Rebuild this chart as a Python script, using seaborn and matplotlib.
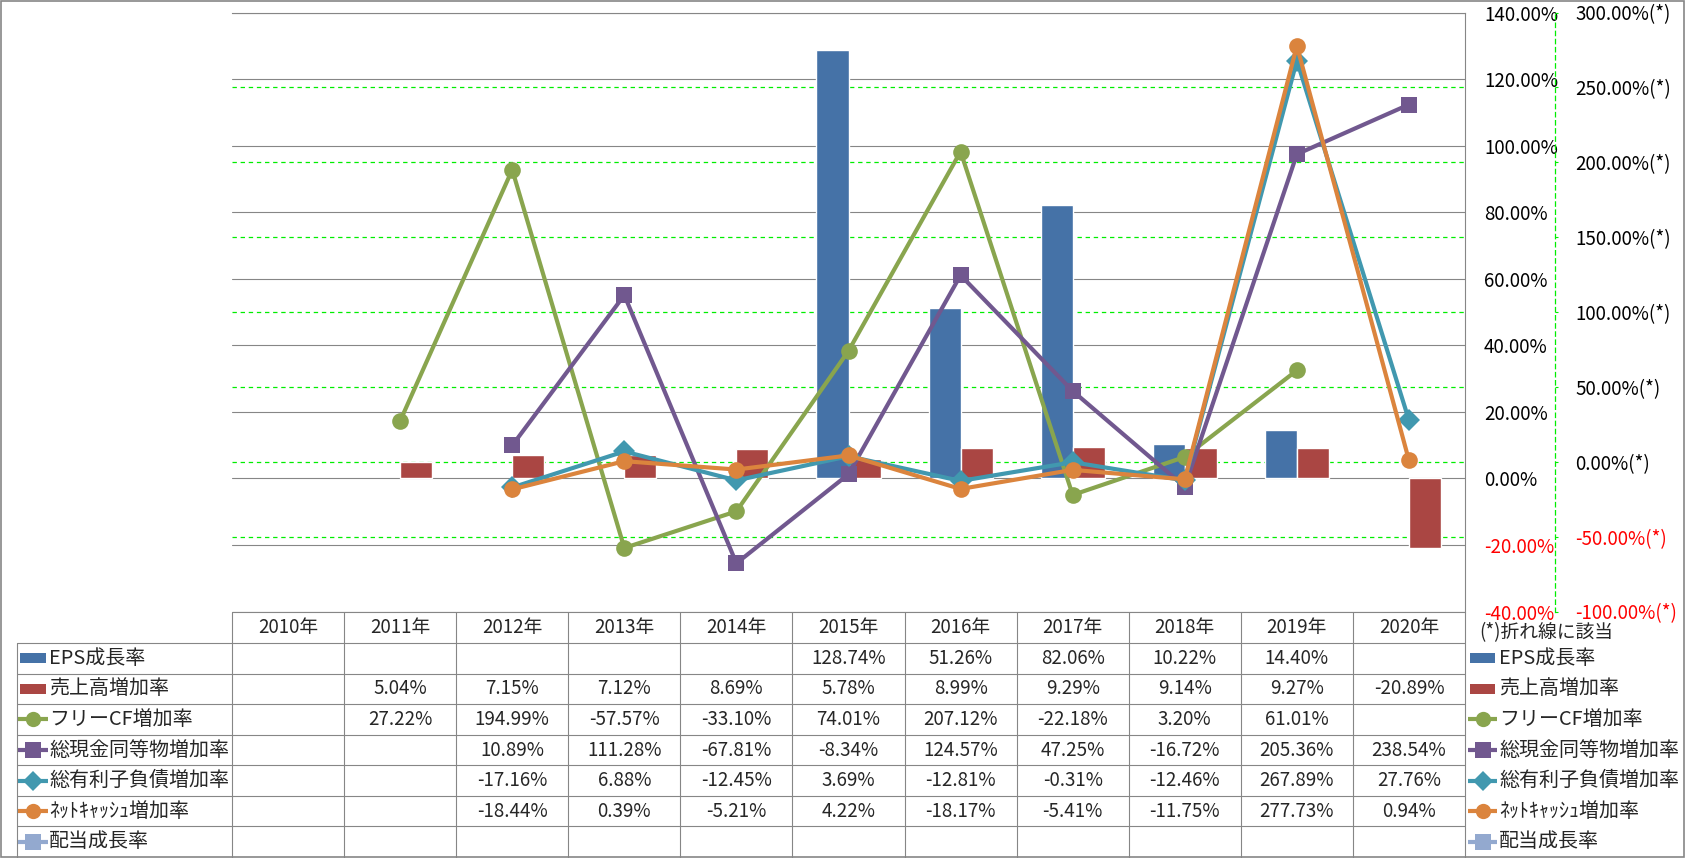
"""Growth-rate combo chart (bars + lines on a second axis) with an Excel-style data table."""
import matplotlib
matplotlib.use("Agg")
import matplotlib.pyplot as plt
from matplotlib.patches import Rectangle
import numpy as np
import pandas as pd
import seaborn as sns

nan = np.nan

years = ["2010年", "2011年", "2012年", "2013年", "2014年", "2015年",
         "2016年", "2017年", "2018年", "2019年", "2020年"]

bar_names = ["EPS成長率", "売上高増加率"]
line_names = ["フリーCF増加率", "総現金同等物増加率", "総有利子負債増加率",
              "ﾈｯﾄｷｬｯｼｭ増加率", "配当成長率"]

eps_growth = [nan, nan, nan, nan, nan, 128.74, 51.26, 82.06, 10.22, 14.40, nan]
sales_growth = [nan, 5.04, 7.15, 7.12, 8.69, 5.78, 8.99, 9.29, 9.14, 9.27, -20.89]
fcf_growth = [nan, 27.22, 194.99, -57.57, -33.10, 74.01, 207.12, -22.18, 3.20, 61.01, nan]
cash_growth = [nan, nan, 10.89, 111.28, -67.81, -8.34, 124.57, 47.25, -16.72, 205.36, 238.54]
debt_growth = [nan, nan, -17.16, 6.88, -12.45, 3.69, -12.81, -0.31, -12.46, 267.89, 27.76]
netcash_growth = [nan, nan, -18.44, 0.39, -5.21, 4.22, -18.17, -5.41, -11.75, 277.73, 0.94]
dividend_growth = [nan, nan, nan, nan, nan, nan, nan, nan, nan, nan, nan]

left_ticks = [-40, -20, 0, 20, 40, 60, 80, 100, 120, 140]
right_ticks = [-100, -50, 0, 50, 100, 150, 200, 250, 300]
note_text = "(*)折れ線に該当"

bar_colors = ["#4572A7", "#AA4643"]
line_colors = ["#89A54E", "#71588F", "#4198AF", "#DB843D", "#93A9CF"]
line_markers = ["o", "s", "D", "o", "s"]
marker_sizes = [12, 12, 11, 12, 12]

GRAY = "#868686"
GREEN = "#00ee00"
RED = "#ff0000"
FS = 13.5      # numbers / axis labels
FS_LAB = 14.4  # series names (wider CJK glyphs in the original)

# pixel layout
W, H = 1685, 858
PL, PR, PT, PB = 232, 1465, 12.5, 611.5
TL = 17
row_edges = [611.5, 643.0, 673.6, 704.1, 734.7, 765.3, 795.9, 826.4, 857.0]

sns.set_theme(style="white")
plt.rcParams["font.family"] = ["Noto Sans CJK JP", "DejaVu Sans"]

fig = plt.figure(figsize=(W / 100, H / 100), dpi=100)
fig.patch.set_facecolor("white")
ax = fig.add_axes([PL / W, 1 - PB / H, (PR - PL) / W, (PB - PT) / H])
ax2 = ax.twinx()

# bars on the primary axis
bars = pd.DataFrame({
    "year": years * 2,
    "series": [bar_names[0]] * len(years) + [bar_names[1]] * len(years),
    "value": eps_growth + sales_growth,
}).dropna()
sns.barplot(data=bars, x="year", y="value", hue="series", order=years,
            hue_order=bar_names, palette=bar_colors, saturation=1,
            width=0.571, gap=0, errorbar=None, legend=False, ax=ax)

# lines on the secondary axis
xpos = np.arange(len(years))
line_series = [fcf_growth, cash_growth, debt_growth, netcash_growth, dividend_growth]
for name, vals, col, mk, ms in zip(line_names, line_series, line_colors, line_markers, marker_sizes):
    s = pd.Series(vals, index=xpos).dropna()
    if s.empty:
        continue
    sns.lineplot(x=s.index, y=s.values, ax=ax2, color=col, marker=mk, markersize=ms,
                 markeredgewidth=0, linewidth=3, errorbar=None, label=name, legend=False)

L0, L1 = left_ticks[0], left_ticks[-1]
R0, R1 = right_ticks[0], right_ticks[-1]
ax.set_xlim(-0.5, len(years) - 0.5)
ax.set_ylim(L0, L1)
ax2.set_ylim(R0, R1)

# gridlines (both behind the bars)
ax.set_axisbelow(True)
ax.grid(axis="y", color=GRAY, linewidth=0.8)
ax.grid(axis="x", visible=False)
for t in right_ticks[1:-1]:
    ax.axhline(L0 + (t - R0) * (L1 - L0) / (R1 - R0), color=GREEN,
               linewidth=0.9, linestyle=(0, (3.5, 3)), zorder=0.6)

ax.set_xticks([])
ax.set_xlabel("")
ax.set_ylabel("")
ax2.set_ylabel("")

# spines first (moving a spine resets its ticks)
ax2.spines["right"].set_position(("outward", (1555 - PR) * 0.72))
ax2.spines["right"].set_color(GREEN)
ax2.spines["right"].set_linestyle((0, (3.5, 3)))
ax2.spines["right"].set_linewidth(0.9)
for sp in ["left", "top", "bottom"]:
    ax2.spines[sp].set_visible(False)
for sp in ["left", "bottom"]:
    ax.spines[sp].set_visible(False)
for sp in ["top", "right"]:
    ax.spines[sp].set_color(GRAY)
    ax.spines[sp].set_linewidth(0.8)
ax.patch.set_alpha(0)
ax2.patch.set_alpha(0)

# primary axis labels on the right
ax.yaxis.tick_right()
ax.set_yticks(left_ticks, labels=[f"{t:.2f}%" for t in left_ticks])
ax.tick_params(axis="y", length=0, pad=13.7, labelsize=FS)

# secondary axis further out, green dashed
ax2.set_yticks(right_ticks, labels=[f"{t:.2f}%(*)" for t in right_ticks])
ax2.tick_params(axis="y", length=2.5, width=0.8, color=GREEN, pad=12, labelsize=FS)

for axis_, ticks in [(ax, left_ticks), (ax2, right_ticks)]:
    for t, lab in zip(ticks, axis_.get_yticklabels(which="both")):
        lab.set_color(RED if t < 0 else "black")
        lab.set_horizontalalignment("left")

# overlay in pixel coordinates for the data table and legend
ov = fig.add_axes([0, 0, 1, 1], zorder=5)
ov.set_xlim(0, W)
ov.set_ylim(H, 0)
ov.axis("off")
ov.patch.set_alpha(0)

ov.add_patch(Rectangle((1, 1), W - 2, H - 2, fill=False, edgecolor=GRAY, linewidth=1.2))

col_w = (PR - PL) / len(years)
col_edges = [PL + i * col_w for i in range(len(years) + 1)]
lk = dict(color=GRAY, linewidth=0.8)
ov.plot([PL, PR], [row_edges[0], row_edges[0]], **lk)
for y in row_edges[1:-1]:
    ov.plot([TL, PR], [y, y], **lk)
ov.plot([TL, TL], [row_edges[1], H], **lk)
for x in col_edges:
    ov.plot([x, x], [row_edges[0], H], **lk)

for i, yr in enumerate(years):
    ov.text(col_edges[i] + col_w / 2, (row_edges[0] + row_edges[1]) / 2, yr,
            ha="center", va="center", fontsize=FS)

all_names = bar_names + line_names
all_series = [eps_growth, sales_growth] + line_series
all_colors = bar_colors + line_colors
all_markers = [None, None] + line_markers
all_ms = [0, 0] + marker_sizes


def draw_key(x0, x1, yc, k):
    if all_markers[k] is None:
        ov.add_patch(Rectangle((x0 + 2, yc - 5), x1 - x0 - 4, 10, color=all_colors[k], linewidth=0))
    else:
        ov.plot([x0, x1], [yc, yc], color=all_colors[k], linewidth=3, solid_capstyle="butt")
        ov.plot([(x0 + x1) / 2], [yc], marker=all_markers[k], color=all_colors[k],
                markersize=all_ms[k] - 1, markeredgewidth=0)


for k, (name, vals) in enumerate(zip(all_names, all_series)):
    yc = (row_edges[k + 1] + row_edges[k + 2]) / 2
    draw_key(TL + 1, TL + 31, yc, k)
    ov.text(TL + 32, yc, name, ha="left", va="center", fontsize=FS_LAB)
    for i, v in enumerate(vals):
        if not np.isnan(v):
            ov.text(col_edges[i] + col_w / 2, yc, f"{v:.2f}%", ha="center", va="center", fontsize=FS)
    # right-hand legend
    draw_key(PR + 3, PR + 32, yc, k)
    ov.text(PR + 34, yc, name, ha="left", va="center", fontsize=FS_LAB)

ov.text(PR + 14, 633, note_text, ha="left", va="center", fontsize=FS)

fig.savefig("out.png", dpi=100)
